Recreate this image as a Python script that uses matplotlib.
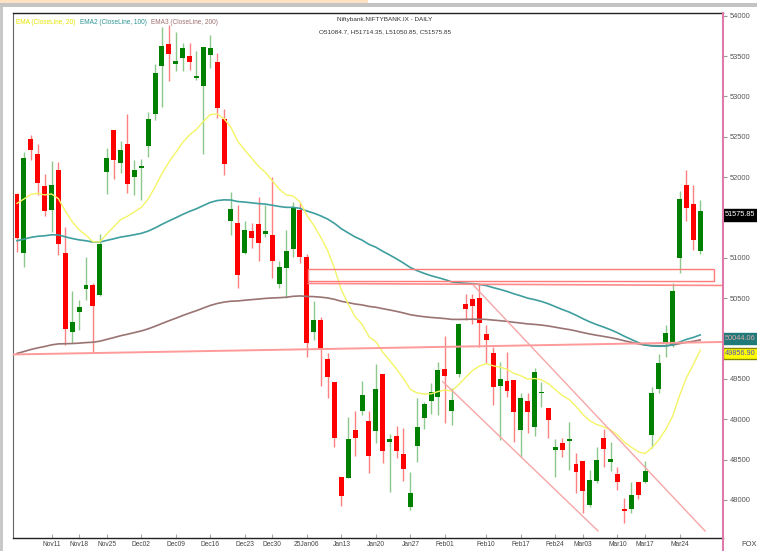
import numpy as np
import matplotlib
matplotlib.use("Agg")
import matplotlib.pyplot as plt
from matplotlib.patches import Rectangle
from matplotlib.lines import Line2D
import matplotlib.transforms as mtrans

plt.rcParams['font.family'] = ['Liberation Sans', 'DejaVu Sans']

# daily OHLC, Nov 4 2024 .. Mar 27 2025 (100 sessions)
opens = [51790, 51065, 52470, 52285, 51895, 51595, 52085, 51060, 50075, 50330,
         50610, 50660, 50540, 52065, 52580, 52180, 52415, 52000, 52110, 52380,
         52785, 53375, 53650, 53400, 53475, 53495, 53230, 53130, 53515, 53420,
         52720, 51450, 51430, 51060, 51335, 51420, 51290, 51280, 50675, 50875,
         51110, 51590, 51015, 50085, 50230, 49745, 49460, 48290, 48275, 48860,
         49100, 48980, 48855, 49560, 48720, 48795, 48570, 47910, 48670, 49020,
         49230, 49275, 49620, 49100, 49560, 50425, 50490, 50505, 50055, 49820,
         49410, 49475, 49485, 48865, 49225, 48905, 49325, 49140, 48620, 48705,
         48730, 48445, 48480, 47935, 48235, 48765, 48470, 48320, 47890, 47890,
         48220, 48220, 48805, 49375, 49945, 49920, 51000, 51900, 51665, 51084.7]
highs = [51800, 52315, 52520, 52405, 52035, 52200, 52190, 51380, 50590, 50475,
         51010, 50685, 51300, 52355, 52580, 52450, 52785, 52210, 52220, 52810,
         53405, 53860, 53880, 53795, 53660, 53665, 53565, 53615, 53755, 53540,
         52845, 51810, 51655, 51450, 51430, 51755, 51655, 52000, 50965, 51345,
         51695, 51695, 51045, 50470, 50270, 49820, 49460, 48290, 49030, 49105,
         49475, 49100, 49685, 49560, 48815, 48920, 48890, 48345, 49265, 49215,
         49450, 49710, 50035, 49390, 50190, 50550, 50550, 50675, 50165, 49895,
         49710, 49835, 49485, 49325, 49325, 49635, 49460, 49140, 48755, 48765,
         48965, 48580, 48480, 48370, 48655, 48880, 48720, 48410, 48025, 48220,
         48220, 48480, 49400, 49810, 50165, 50690, 51830, 52090, 51900, 51714.35]
lows = [51075, 50885, 52210, 51780, 51520, 51315, 51035, 49920, 49950, 50100,
        50475, 49815, 50525, 51790, 51975, 52045, 51800, 51780, 51715, 52250,
        52705, 52870, 53185, 53315, 53315, 53330, 53200, 52285, 53355, 52730,
        52025, 51285, 50630, 51045, 51120, 50965, 51260, 50750, 50625, 50505,
        51015, 50935, 49775, 49980, 49415, 49265, 48660, 47930, 48270, 48545,
        49050, 48335, 48710, 48460, 48100, 48525, 48235, 47875, 48475, 48880,
        49065, 49050, 48955, 48930, 49525, 50230, 50180, 49900, 49695, 49175,
        48740, 49275, 48720, 48530, 48830, 48790, 49150, 48765, 48285, 48530,
        48370, 48085, 47840, 47910, 48210, 48410, 48360, 48125, 47715, 47840,
        48010, 48210, 48645, 49325, 49770, 49895, 50810, 51455, 51095, 51050.85]
closes = [51240, 52235, 52335, 51930, 51585, 51905, 51175, 50115, 50205, 50390,
          50660, 50405, 51175, 52235, 52210, 52330, 51920, 52085, 52135, 52720,
          53295, 53630, 53525, 53435, 53605, 53420, 53245, 53615, 53595, 52850,
          52160, 51600, 50785, 51340, 51250, 51185, 51335, 50965, 50885, 51090,
          51630, 51010, 49945, 50230, 49870, 49525, 48765, 48050, 48755, 48770,
          49300, 48550, 49375, 48600, 48755, 48610, 48385, 48090, 48905, 49190,
          49340, 49610, 49535, 49240, 50180, 50365, 50405, 50190, 49980, 49400,
          49500, 49350, 49090, 49265, 49090, 49585, 49335, 48990, 48655, 48620,
          48755, 48345, 48110, 48245, 48495, 48630, 48505, 48220, 47865, 48060,
          48060, 48360, 49325, 49695, 50070, 50590, 51730, 51615, 51220, 51575.85]

tick_pos = [5, 9, 13, 18, 23, 28, 33, 37, 42, 47, 52, 57, 62, 68, 73, 78, 82, 87, 91, 96]
tick_labels = ["Nov11", "Nov18", "Nov25", "Dec02", "Dec09", "Dec16", "Dec23", "Dec30",
               "25Jan06", "Jan13", "Jan20", "Jan27", "Feb01", "Feb10", "Feb17", "Feb24",
               "Mar03", "Mar10", "Mar17", "Mar24"]
price_ticks = [48000, 48500, 49000, 49500, 50500, 51000,
               52000, 52500, 53000, 53500, 54000]

# EMA levels before the first visible session
ema_seed = {20: 51720, 100: 51210, 200: 49800}

# drawn objects (index, price)
support_line = [(-0.6, 49802), (102.3, 49957)]
zone_box = (42.2, 101.0, 50713, 50861)
zone_line = [(42.2, 50682), (102.3, 50657)]
channel_upper = [(66.1, 50663), (99.7, 47615)]
channel_lower = [(61.7, 49465), (84.2, 47615)]


def ema(vals, n, start):
    a = 2.0 / (n + 1)
    out = []
    v = start
    for c in vals:
        v = v + a * (c - v)
        out.append(v)
    return np.array(out)


W, H = 757, 551
fig = plt.figure(figsize=(W / 100, H / 100), dpi=100)
ax = fig.add_axes([13 / W, 1 - 538 / H, (723 - 13) / W, (538 - 13) / H])

x = np.arange(len(closes))
o = np.array(opens); c = np.array(closes); hi = np.array(highs); lo = np.array(lows)
up = c >= o

ax.vlines(x[up], lo[up], hi[up], color="#8cc88c", lw=1, zorder=2)
ax.vlines(x[~up], lo[~up], hi[~up], color="#ff8080", lw=1, zorder=2)
bot = np.minimum(o, c)
hgt = np.maximum(np.abs(c - o), 18)
ax.bar(x[up], hgt[up], bottom=bot[up], width=0.72, color="#008000", lw=0, zorder=3)
ax.bar(x[~up], hgt[~up], bottom=bot[~up], width=0.72, color="#ff0000", lw=0, zorder=3)

e20 = ema(closes, 20, ema_seed[20])
e100 = ema(closes, 100, ema_seed[100])
e200 = ema(closes, 200, ema_seed[200])
ax.plot(x, e200, color="#9a7373", lw=1.2, zorder=4)
ax.plot(x, e100, color="#3f9e9e", lw=1.2, zorder=4)
ax.plot(x, e20, color="#f4f466", lw=1.0, zorder=4)

ax.plot(*zip(*support_line), color="#ff9a9a", lw=1.4, zorder=5)
ax.add_patch(Rectangle((zone_box[0], zone_box[2]), zone_box[1] - zone_box[0],
                       zone_box[3] - zone_box[2], fill=False, ec="#ff7a7a", lw=1, zorder=5))
ax.plot(*zip(*zone_line), color="#ff8a8a", lw=1.2, zorder=5)
ax.plot(*zip(*channel_upper), color="#f7a6a6", lw=1, zorder=5)
ax.plot(*zip(*channel_lower), color="#f7a6a6", lw=1, zorder=5)

ax.set_xlim(-0.58, 102.3)
ax.set_ylim(47528, 54033)

ax.yaxis.tick_right()
ax.set_yticks(price_ticks)
ax.set_yticklabels([str(p) for p in price_ticks])
ax.tick_params(axis="y", direction="out", length=3, width=0.8, color="#999999",
               labelsize=5.4, labelcolor="#555555", pad=2)
ax.set_xticks(tick_pos)
ax.set_xticklabels(tick_labels)
ax.tick_params(axis="x", direction="in", length=3, width=0.8, color="#aaaaaa",
               labelsize=4.8, labelcolor="#444444", pad=2)

for s in ["top", "bottom"]:
    ax.spines[s].set_color("#222222")
    ax.spines[s].set_linewidth(1)
ax.spines["left"].set_color("#666666")
ax.spines["right"].set_visible(False)

# right border (pink) running to the bottom of the image
fig.add_artist(Line2D([723 / W, 723 / W], [0, 1 - 13 / H], color="#e07aa8", lw=1.5))

# price boxes on the right
tr = mtrans.blended_transform_factory(ax.transAxes, ax.transData)
box_x = 1.003
ax.text(box_x, c[-1], "%.2f" % c[-1], transform=tr, ha="left", va="top",
        fontsize=5.3, color="white", zorder=10, clip_on=False,
        bbox=dict(boxstyle="square,pad=0.3", fc="black", ec="black"))
ax.text(box_x, e100[-1], "%.2f" % e100[-1], transform=tr, ha="left", va="top",
        fontsize=5.3, color="#e0a8a8", zorder=10, clip_on=False,
        bbox=dict(boxstyle="square,pad=0.3", fc="#217a7a", ec="#217a7a"))
ax.text(box_x, e20[-1], "%.2f" % e20[-1], transform=tr, ha="left", va="top",
        fontsize=5.3, color="#5050c0", zorder=10, clip_on=False,
        bbox=dict(boxstyle="square,pad=0.3", fc="#ffff00", ec="#888800"))

# legend / title
fs = 4.7
fig.text(16 / W, 1 - 22 / H, "EMA (CloseLine, 20)", color="#e6e600", fontsize=fs, va="center")
fig.text(80 / W, 1 - 22 / H, "EMA2 (CloseLine, 100)", color="#2e9494", fontsize=fs, va="center")
fig.text(151 / W, 1 - 22 / H, "EMA3 (CloseLine, 200)", color="#a07070", fontsize=fs, va="center")
fig.text(385 / W, 1 - 20 / H, "Niftybank.NIFTYBANK.IX - DAILY", color="#333333",
         fontsize=4.6, ha="center", va="center")
fig.text(385 / W, 1 - 32 / H,
         "O%s, H%s, L%s, C%s" % (opens[-1], highs[-1], lows[-1], closes[-1]),
         color="#333333", fontsize=4.6, ha="center", va="center")
fig.text(749 / W, 1 - 545 / H, "FOX", color="#444444", fontsize=5.4, ha="center", va="center")

# window frame bits
fig.add_artist(Rectangle((0, 1 - 7 / H), 1, 4 / H, transform=fig.transFigure, color="#c4c4c4", lw=0))
fig.add_artist(Rectangle((0, 1 - 3 / H), 368 / W, 3 / H, transform=fig.transFigure, color="#fde3c4", lw=0))
fig.add_artist(Rectangle((0, 0), 3 / W, 1 - 7 / H, transform=fig.transFigure, color="#c8c8c8", lw=0))

fig.savefig("out.png", dpi=100)
